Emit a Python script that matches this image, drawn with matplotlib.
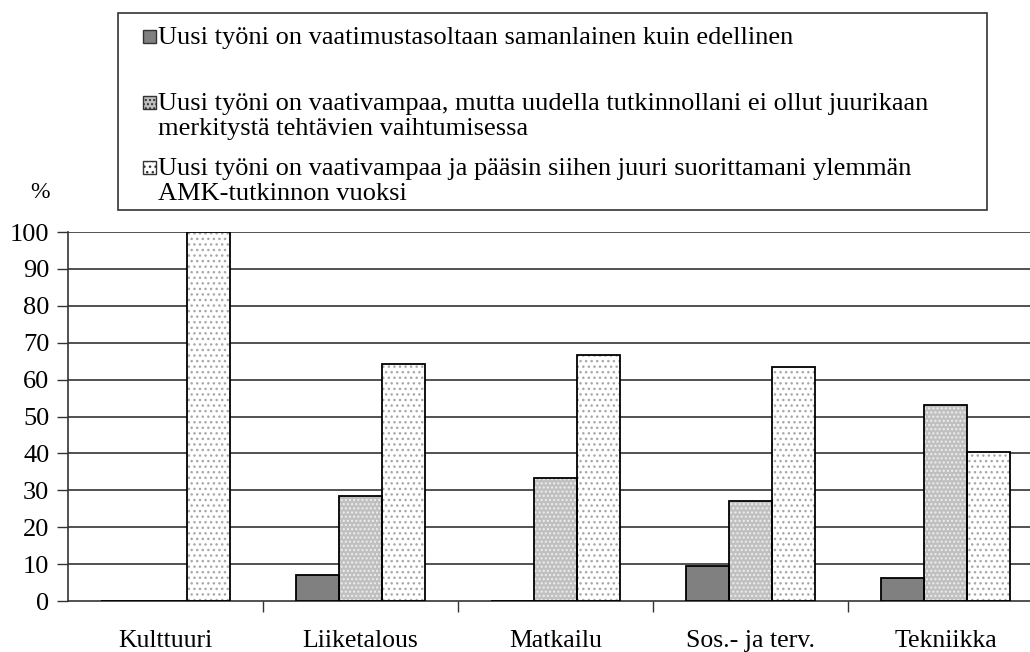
import numpy as np
import matplotlib.pyplot as plt
from matplotlib.patches import Rectangle

plt.rcParams['font.family'] = ['Liberation Serif', 'DejaVu Serif']
plt.rcParams['hatch.linewidth'] = 1.0

# Aineisto
alat = ['Kulttuuri', 'Liiketalous', 'Matkailu', 'Sos.- ja terv.', 'Tekniikka']
samanlainen = [0, 7.0, 0, 9.4, 6.3]
ei_merkitysta = [0, 28.5, 33.3, 27.0, 53.0]
tutkinnon_vuoksi = [100, 64.3, 66.7, 63.5, 40.5]
selitteet = ['Uusi työni on vaatimustasoltaan samanlainen kuin edellinen',
             'Uusi työni on vaativampaa, mutta uudella tutkinnollani ei ollut juurikaan\nmerkitystä tehtävien vaihtumisessa',
             'Uusi työni on vaativampaa ja pääsin siihen juuri suorittamani ylemmän\nAMK-tutkinnon vuoksi']

W, H = 1030, 652
fig = plt.figure(figsize=(W/100, H/100), dpi=100)
ax = fig.add_axes([68/W, 51/H, 975/W, 369/H])

x = np.arange(len(alat))
w = 0.22
sarjat = [samanlainen, ei_merkitysta, tutkinnon_vuoksi]
taytot = ['#808080', '#c0c0c0', 'white']
kuviot = [None, '....', '...']
kuviovarit = [None, '#eeeeee', '#a8a8a8']

# Ruudukko
for yv in range(10, 101, 10):
    ax.axhline(yv, color='#333333', lw=1.2, zorder=0)

for i, s in enumerate(sarjat):
    xs = x + (i - 1) * w
    if kuviot[i]:
        ax.bar(xs, s, w, color=taytot[i], hatch=kuviot[i], edgecolor=kuviovarit[i], lw=0, zorder=2)
        ax.bar(xs, s, w, fill=False, edgecolor='black', lw=1.3, zorder=3)
    else:
        ax.bar(xs, s, w, color=taytot[i], edgecolor='black', lw=1.3, zorder=3)

ax.set_xlim(-0.5, len(alat) - 0.5)
ax.set_ylim(0, 100)
ax.set_yticks(range(0, 101, 10))
ax.set_xticks(x[:-1] + 0.5)
ax.set_xticklabels([])
ax.set_xticks(x, minor=True)
ax.set_xticklabels(alat, minor=True)
ax.tick_params(axis='x', which='major', direction='out', length=8, width=1, color='#333333')
ax.tick_params(axis='x', which='minor', length=0, pad=21, labelsize=18.5)
ax.tick_params(axis='y', direction='out', length=8, width=1, pad=5.5, labelsize=19, color='#333333')
for sp in ['top', 'right']:
    ax.spines[sp].set_visible(False)
ax.spines['left'].set_color('#333333')
ax.spines['bottom'].set_color('#333333')
ax.spines['left'].set_linewidth(1.2)
ax.spines['bottom'].set_linewidth(1.2)

fig.text(40/W, 1 - 193/H, '%', fontsize=17, ha='center', va='center')

# Selite käsin
fig.patches.append(Rectangle((118/W, 1 - 210/H), (987 - 118)/W, (210 - 13)/H,
                             transform=fig.transFigure, fill=False, edgecolor='#333333', lw=1.2))
rivit = [44, 110, 175]
for i, teksti in enumerate(selitteet):
    yb = rivit[i]
    fig.patches.append(Rectangle((143/W, 1 - (yb - 1)/H), 13/W, 13/H, transform=fig.transFigure,
                                 facecolor=taytot[i], hatch=kuviot[i], edgecolor='#333333', lw=1))
    fig.text(158/W, 1 - yb/H, teksti.split('\n')[0], fontsize=19, va='baseline', ha='left')
    if '\n' in teksti:
        fig.text(158/W, 1 - (yb + 25)/H, teksti.split('\n')[1], fontsize=19, va='baseline', ha='left')

fig.savefig('out.png', dpi=100)
